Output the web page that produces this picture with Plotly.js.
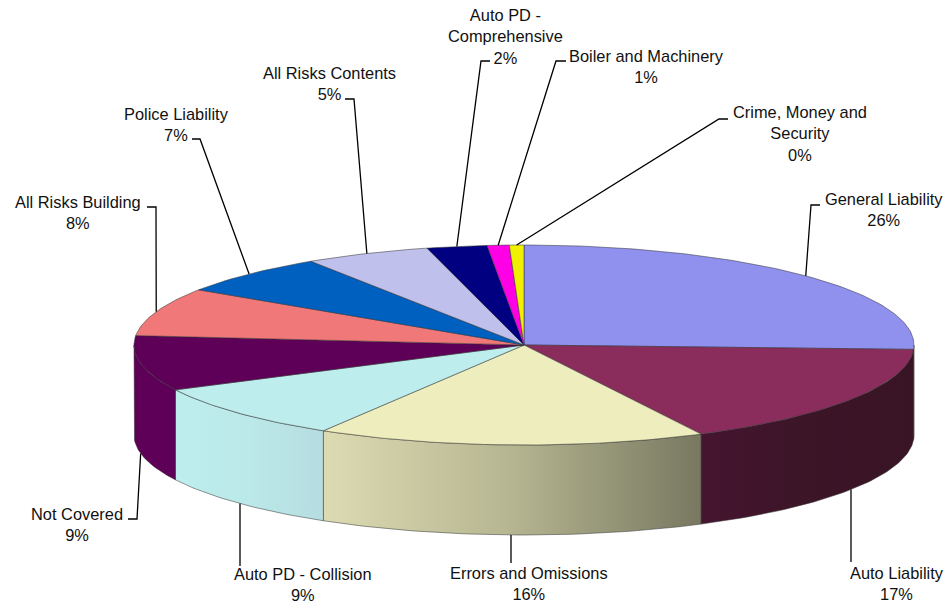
<!DOCTYPE html>
<html><head><meta charset="utf-8">
<script src="https://cdn.plot.ly/plotly-3.0.1.min.js"></script>
<style>html,body{margin:0;padding:0;background:#fff}#c{width:949px;height:605px}</style>
</head><body><div id="c"></div>
<script>
// --- data ---
const categories = ["General Liability","Auto Liability","Errors and Omissions","Auto PD - Collision","Not Covered","All Risks Building","Police Liability","All Risks Contents","Auto PD - Comprehensive","Boiler and Machinery","Crime, Money and Security"];
const shares = [25.7,16.8,16.1,9.0,8.9,7.8,6.5,5.2,2.49,0.91,0.6];
const percentLabels = ["26%","17%","16%","9%","9%","8%","7%","5%","2%","1%","0%"];
const labelLines = ["General Liability","Auto Liability","Errors and Omissions","Auto PD - Collision","Not Covered","All Risks Building","Police Liability","All Risks Contents","Auto PD -<br>Comprehensive","Boiler and Machinery","Crime, Money and<br>Security"];
const topColors = ["#9090EE","#8A2C5C","#EDEDBD","#BDEDED","#5E0058","#F07878","#0060C0","#C0C0EC","#000080","#FF00E6","#F0F000"];
const wallStops = [
  ["#9090EE","#9090EE"],
  ["#461430","#3C1527","#381424"],
  ["#DCDBB2","#B5B591","#787861"],
  ["#BEEEEE","#BBE8E9","#B6DDE1"],
  ["#5E0058","#5E0058"],
  ["#F07878","#F07878"],["#0060C0","#0060C0"],["#C0C0EC","#C0C0EC"],["#000080","#000080"],["#FF00E6","#FF00E6"],["#F0F000","#F0F000"]
];

// --- layout geometry (pie projection, label placement) ---
const cx = 524, cy = 345, rx = 390, ry = 100, depth = 90;
const labelX = [884,897,529,303,77,78,176,329,505,646,800];
const labelY = [209,583,583,584,524,212,124,83,36,66,133];
const elbows = [
  [[811,205],[820,205]], [[851,562]], [[511,563]], [[240,566]],
  [[137,519],[128,519]], [[156,207],[147,207]], [[200,139],[192,139]],
  [[354,99],[345,99]], [[481,61],[490,61]], [[556,61],[566,61]], [[719,119],[728,119]]
];
const verticalLeader = [false,true,true,true,false,false,false,false,false,false,false];

const px = a => cx + rx * Math.sin(a * Math.PI / 180);
const py = a => cy - ry * Math.cos(a * Math.PI / 180);
const total = shares.reduce((s, v) => s + v, 0);
const starts = []; let run = 0;
shares.forEach(v => { starts.push(run / total * 360); run += v; });
const ends = shares.map((v, i) => starts[i] + v / total * 360);
function arc(a, b) { const out = []; const n = Math.max(2, Math.ceil(Math.abs(b - a))); for (let i = 0; i <= n; i++) out.push(a + (b - a) * i / n); return out; }

const traces = [];
const edge = {color: "rgba(50,50,50,0.65)", width: 0.8};

// walls: only the front half of the rim is visible
shares.forEach((v, i) => {
  const a = Math.max(starts[i], 90), b = Math.min(ends[i], 270);
  if (b <= a) return;
  const ang = arc(a, b);
  const xs = ang.map(px).concat(ang.slice().reverse().map(px));
  const ys = ang.map(py).concat(ang.slice().reverse().map(t => py(t) + depth));
  xs.push(xs[0]); ys.push(ys[0]);
  const stops = wallStops[i];
  traces.push({type: "scatter", mode: "lines", x: xs, y: ys, fill: "toself", line: edge,
    fillcolor: stops[0],
    fillgradient: {type: "horizontal", colorscale: stops.map((c, k) => [k / (stops.length - 1), c])},
    hoverinfo: "skip", showlegend: false});
});

// top face slices
shares.forEach((v, i) => {
  const ang = arc(starts[i], ends[i]);
  const xs = [cx].concat(ang.map(px), [cx]);
  const ys = [cy].concat(ang.map(py), [cy]);
  traces.push({type: "scatter", mode: "lines", x: xs, y: ys, fill: "toself", fillcolor: topColors[i],
    line: edge, name: categories[i], text: percentLabels[i], hoverinfo: "name+text", showlegend: false});
});

// leader lines start from the slice's mid angle on the rim
shares.forEach((v, i) => {
  const m = (starts[i] + ends[i]) / 2;
  const front = m > 90 && m < 270;
  let start = [px(m), py(m) + (front ? depth : 0)];
  if (verticalLeader[i]) {
    const ex = elbows[i][0][0], u = (ex - cx) / rx;
    start = [ex, cy + ry * Math.sqrt(1 - u * u) + depth];
  }
  const pts = [start].concat(elbows[i]);
  traces.push({type: "scatter", mode: "lines", x: pts.map(p => p[0]), y: pts.map(p => p[1]),
    line: {color: "#000", width: 1.3}, hoverinfo: "skip", showlegend: false});
});

const annotations = categories.map((c, i) => ({
  x: labelX[i], y: labelY[i], xref: "x", yref: "y", xanchor: "center", yanchor: "middle",
  showarrow: false, align: "center", text: labelLines[i] + "<br>" + percentLabels[i],
  font: {family: "Liberation Sans, Arial, sans-serif", size: 16.4, color: "#111"}
}));

Plotly.newPlot("c", traces, {
  width: 949, height: 605, margin: {l: 0, r: 0, t: 0, b: 0},
  paper_bgcolor: "#fff", plot_bgcolor: "#fff", showlegend: false,
  xaxis: {range: [0, 949], visible: false, fixedrange: true},
  yaxis: {range: [605, 0], visible: false, fixedrange: true},
  annotations
}, {displayModeBar: false});
</script>
</body></html>
